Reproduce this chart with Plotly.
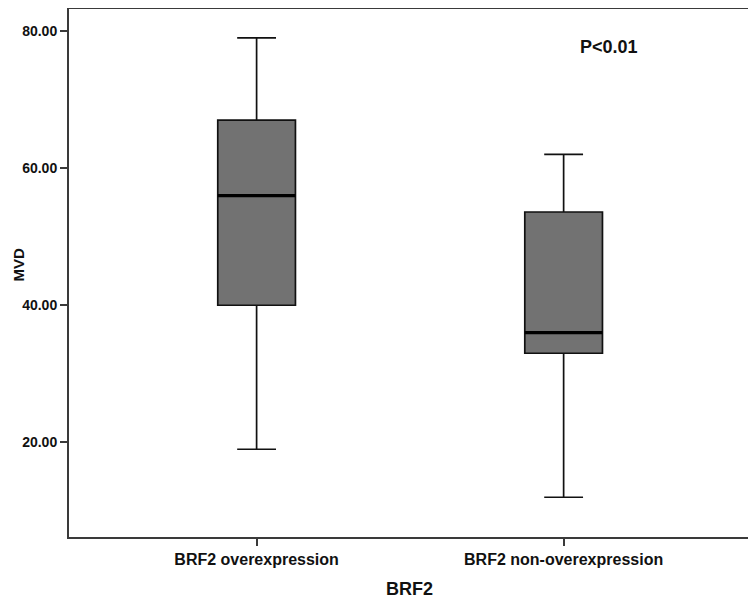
import plotly.graph_objects as go

categories = ["BRF2 overexpression", "BRF2 non-overexpression"]
lower_whisker = [19.0, 12.0]
q1_values = [40.0, 33.0]
medians = [56.0, 36.0]
q3_values = [67.0, 53.6]
upper_whisker = [79.0, 62.0]
y_ticks = [20, 40, 60, 80]
y_tick_labels = ["20.00", "40.00", "60.00", "80.00"]

BOX_W = 0.253
FONT = "Liberation Sans, Arial, sans-serif"

fig = go.Figure()
positions = list(range(len(categories)))
for i, cat in enumerate(categories):
    fig.add_trace(go.Box(
        x=[positions[i]],
        q1=[q1_values[i]], median=[medians[i]], q3=[q3_values[i]],
        lowerfence=[lower_whisker[i]], upperfence=[upper_whisker[i]],
        width=BOX_W, whiskerwidth=0.5,
        fillcolor="#727272",
        line=dict(color="#111111", width=1.7),
        boxpoints=False, name=cat, showlegend=False, hoverinfo="skip",
    ))
    # thicker median line
    fig.add_trace(go.Scatter(
        x=[positions[i] - BOX_W / 2, positions[i] + BOX_W / 2],
        y=[medians[i], medians[i]],
        mode="lines", line=dict(color="#000000", width=3.2),
        showlegend=False, hoverinfo="skip",
    ))

axis_line = dict(showline=True, linecolor="#3a3a3a", linewidth=2, mirror=True,
                 showgrid=False, zeroline=False, ticks="outside", ticklen=7,
                 tickwidth=2, tickcolor="#3a3a3a", automargin=False)

fig.update_layout(
    width=748, height=594,
    margin=dict(l=61, r=6, t=1, b=65),
    paper_bgcolor="white", plot_bgcolor="white",
    xaxis=dict(range=[-0.611, 1.607], tickvals=positions, ticktext=categories,
               tickfont=dict(family=FONT, size=16, color="#111111", weight="bold"),
               **axis_line),
    yaxis=dict(range=[6.2, 83.21], tickvals=y_ticks, ticktext=y_tick_labels,
               tickfont=dict(family=FONT, size=14, color="#111111", weight="bold"),
               **axis_line),
    annotations=[
        dict(text="P<0.01", xref="paper", yref="paper", x=0.793, y=0.9286,
             showarrow=False, xanchor="center", yanchor="middle",
             font=dict(family=FONT, size=18, color="#111111", weight="bold")),
        dict(text="BRF2", xref="paper", yref="paper", x=0.5, y=-0.0985,
             showarrow=False, xanchor="center", yanchor="middle",
             font=dict(family=FONT, size=18, color="#111111", weight="bold")),
        dict(text="MVD", xref="paper", yref="paper", x=-0.0734, y=0.516, textangle=-90,
             showarrow=False, xanchor="center", yanchor="middle", borderpad=0,
             font=dict(family=FONT, size=15, color="#111111", weight="bold")),
    ],
)

fig.write_html("out.html")
